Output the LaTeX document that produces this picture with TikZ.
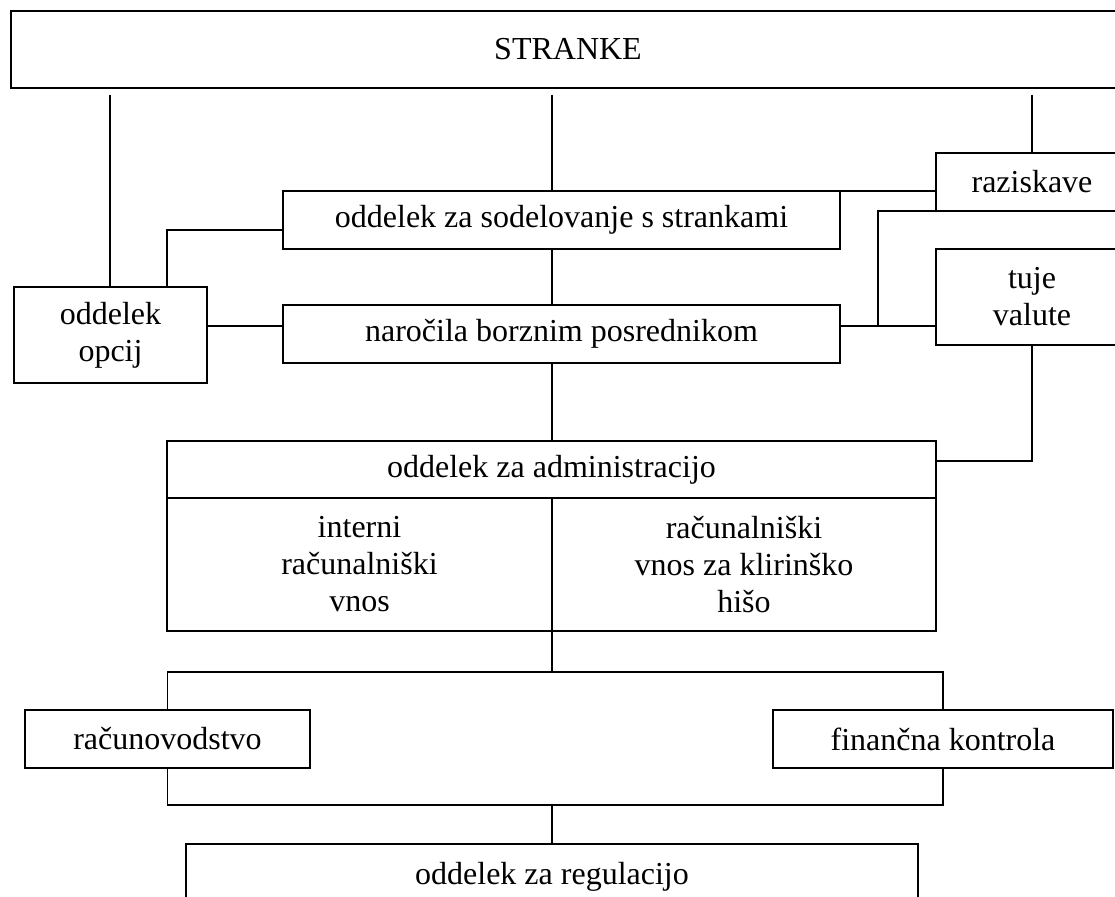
\documentclass[tikz,border=0pt]{standalone}
\usepackage{fontspec}
\setmainfont{Liberation Serif}
\begin{document}
\begin{tikzpicture}[x=1pt,y=-1pt,
  box/.style={draw, line width=1.3pt, inner sep=0pt, outer sep=0pt, align=center,
    font=\fontsize{32}{37}\selectfont},
  conn/.style={line width=1.3pt}]
\useasboundingbox (0,0) rectangle (1115,896);
\clip (0,0) rectangle (1115,896);
% boxes
\node[box, minimum width=1114, minimum height=77] (str) at (568,49.5) {STRANKE};
\node[box, minimum width=557, minimum height=58] (sod) at (561.5,220) {oddelek za sodelovanje s strankami};
\node[box, minimum width=557, minimum height=58] (nar) at (561.5,334) {naročila borznim posrednikom};
\node[box, minimum width=192, minimum height=58] (raz) at (1032,182) {raziskave};
\node[box, minimum width=192, minimum height=96] (tuj) at (1032,297) {tuje\\valute};
\node[box, minimum width=193, minimum height=96] (opc) at (110.5,335) {oddelek\\opcij};
\node[box, minimum width=769, minimum height=57] (adm) at (551.5,469.5) {oddelek za administracijo};
\node[box, minimum width=385, minimum height=133] (admL) at (359.5,564.5) {interni\\računalniški\\vnos};
\node[box, minimum width=384, minimum height=133] (admR) at (744,564.5) {računalniški\\vnos za klirinško\\hišo};
\node[box, minimum width=285, minimum height=58] (rac) at (167.5,739) {računovodstvo};
\node[box, minimum width=340, minimum height=58] (fin) at (943,739) {finančna kontrola};
\node[box, minimum width=732, minimum height=66] (reg) at (552,877) {oddelek za regulacijo};
% helper coordinates
\coordinate (t1) at (110,95);
\coordinate (t2) at (552,95);
\coordinate (t3) at (1032,95);
\coordinate (y326) at (0,326);
\coordinate (j1) at (878,326);
\coordinate (b1) at (552,672);
\coordinate (b2) at (552,805);
% connectors
\draw[conn] (t1) -- (t1 |- opc.north);
\draw[conn] (t2) -- (t2 |- sod.north);
\draw[conn] (t3) -- (raz.north);
\draw[conn] (sod.north east) -- (raz.west |- sod.north);
\draw[conn] ([xshift=-40pt]opc.north east) |- ([yshift=-10pt]sod.west);
\draw[conn] (opc.east |- y326) -- (nar.west |- y326);
\draw[conn] (nar.east |- y326) -- (tuj.west |- y326);
\draw[conn] (j1) |- (raz.south west);
\draw[conn] (t2 |- sod.south) -- (t2 |- nar.north);
\draw[conn] (t2 |- nar.south) -- (t2 |- adm.north);
\draw[conn] (tuj.south) |- ([yshift=8.5pt]adm.east);
\draw[conn] (admL.south east) -- (b1);
\draw[conn] (rac.north) |- (b1) -| (fin.north);
\draw[conn] (rac.south) |- (b2) -| (fin.south);
\draw[conn] (b2) -- (reg.north);
\end{tikzpicture}
\end{document}
